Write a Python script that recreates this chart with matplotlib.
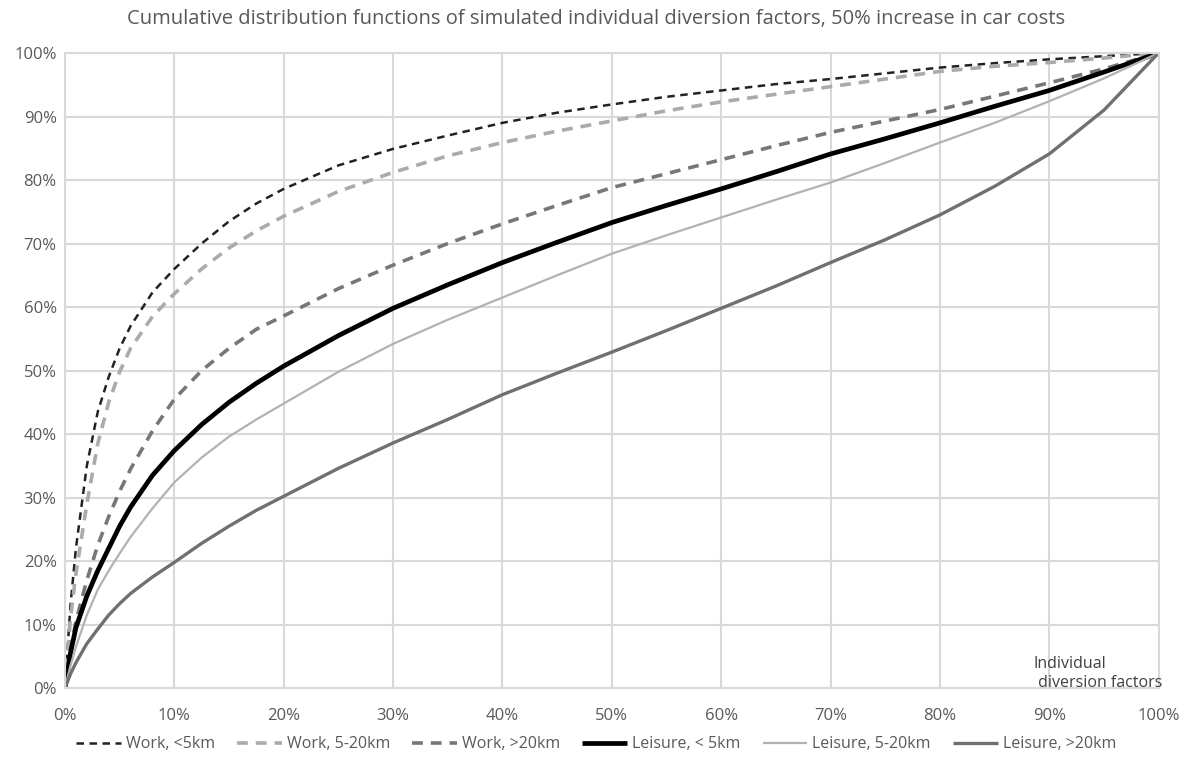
import matplotlib
matplotlib.use("Agg")
import matplotlib.pyplot as plt
from matplotlib.ticker import FuncFormatter, MultipleLocator

plt.rcParams["font.family"] = ["Open Sans", "DejaVu Sans"]

# diversion factor (%), shared x grid for all curves
x_pct = [0, 0.5, 1, 2, 3, 4, 5, 6, 8, 10, 12.5, 15, 17.5, 20, 25, 30, 35, 40, 45,
         50, 55, 60, 65, 70, 75, 80, 85, 90, 95, 100]

work_lt5 = [0, 13, 22, 35, 43.5, 49, 53.5, 57, 62.3, 66, 70, 73.5, 76.3, 78.6, 82.3,
            84.9, 87, 89, 90.6, 91.9, 93.1, 94.1, 95.1, 95.9, 96.8, 97.7, 98.4, 99,
            99.5, 100]
work_5_20 = [0, 11, 18, 29, 38.5, 45, 49.8, 53.5, 58.5, 62.1, 66, 69.3, 72, 74.3,
             78.2, 81.2, 83.8, 85.9, 87.7, 89.3, 90.9, 92.3, 93.5, 94.7, 95.9, 97.1,
             97.9, 98.5, 99.2, 100]
work_gt20 = [0, 6, 10.5, 17, 22.5, 27, 31, 34.5, 40.5, 45.5, 50, 53.5, 56.5, 58.6,
             62.9, 66.6, 70, 73.1, 76, 78.8, 81, 83.2, 85.4, 87.5, 89.3, 91.1, 93.2,
             95.3, 97.5, 100]
leis_lt5 = [0, 5.5, 9.5, 14.5, 18.5, 22, 25.5, 28.5, 33.5, 37.4, 41.5, 45, 48, 50.7,
            55.5, 59.8, 63.5, 67, 70.2, 73.3, 76, 78.6, 81.3, 84.1, 86.5, 89, 91.6,
            94.1, 97, 100]
leis_5_20 = [0, 3.5, 6.5, 11.5, 15.5, 18.5, 21.2, 23.8, 28.3, 32.4, 36.3, 39.6, 42.3,
             44.8, 49.8, 54.2, 58, 61.5, 65, 68.4, 71.3, 74.1, 76.9, 79.6, 82.7, 85.9,
             89, 92.4, 96, 100]
leis_gt20 = [0, 2.2, 4, 7, 9.3, 11.5, 13.3, 14.9, 17.5, 19.8, 22.8, 25.5, 28, 30.2,
             34.6, 38.6, 42.3, 46.2, 49.6, 52.9, 56.3, 59.8, 63.3, 67, 70.6, 74.5, 79,
             84.1, 91, 100]

series = [
    ("Work, <5km", work_lt5, dict(color="#222222", lw=1.8, ls=(0, (3, 2.2)))),
    ("Work, 5-20km", work_5_20, dict(color="#ababab", lw=2.6, ls=(0, (3, 2.2)))),
    ("Work, >20km", work_gt20, dict(color="#777777", lw=2.6, ls=(0, (3, 2.2)))),
    ("Leisure, < 5km", leis_lt5, dict(color="#000000", lw=3.4, ls="-")),
    ("Leisure, 5-20km", leis_5_20, dict(color="#b2b2b2", lw=1.6, ls="-")),
    ("Leisure, >20km", leis_gt20, dict(color="#707070", lw=2.4, ls="-")),
]

text_col = "#595959"
grid_col = "#d9d9d9"

fig = plt.figure(figsize=(11.92, 7.57), dpi=100)
ax = fig.add_axes([0.0545, 0.091, 0.9175, 0.839])

for label, ys, style in series:
    ax.plot(x_pct, ys, label=label, solid_capstyle="butt", dash_capstyle="butt", **style)

ax.set_xlim(0, 100)
ax.set_ylim(0, 100)
ax.xaxis.set_major_locator(MultipleLocator(10))
ax.yaxis.set_major_locator(MultipleLocator(10))
pct = FuncFormatter(lambda v, _: f"{v:.0f}%")
ax.xaxis.set_major_formatter(pct)
ax.yaxis.set_major_formatter(pct)
ax.grid(True, color=grid_col, lw=1.5)
ax.set_axisbelow(True)
for s in ax.spines.values():
    s.set_color(grid_col)
    s.set_linewidth(1.5)
ax.tick_params(length=0, labelsize=12, colors=text_col)
ax.tick_params(axis="x", pad=14)
ax.tick_params(axis="y", pad=6)

ax.text(0.886, -0.004, "Individual\n diversion factors", transform=ax.transAxes,
        fontsize=11.5, color="#404040", ha="left", va="bottom", linespacing=1.2)

fig.suptitle("Cumulative distribution functions of simulated individual diversion factors, "
             "50% increase in car costs", y=0.988, fontsize=14.5, color=text_col)

fig.legend(loc="center", bbox_to_anchor=(0.5, 0.017), ncol=6, frameon=False,
           fontsize=11.5, handlelength=2.8, columnspacing=1.4, handletextpad=0.3,
           labelcolor=text_col)

fig.savefig("out.png", dpi=100)
